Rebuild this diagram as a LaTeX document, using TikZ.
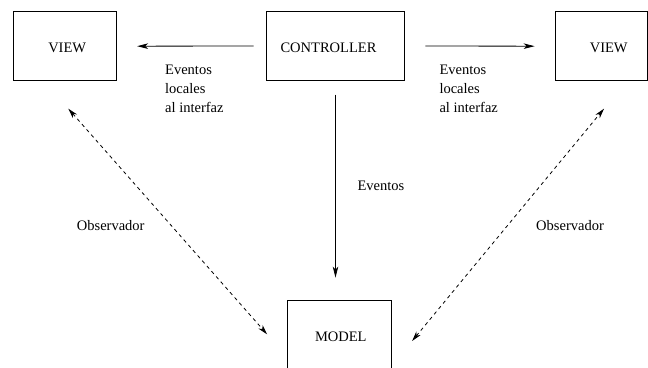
\documentclass[tikz,border=0pt]{standalone}
\usepackage{fontspec}
\setmainfont{Liberation Serif}
\usetikzlibrary{arrows.meta,calc}

\begin{document}
\begin{tikzpicture}[x=1pt,y=-1pt,
  txt/.style={font=\fontsize{14.5}{19}\selectfont},
  box/.style={draw,line width=0.8pt,inner sep=0pt,rectangle},
  flow/.style={line width=0.8pt,-{Stealth[length=11pt,width=5.5pt,inset=3pt]}},
  obs/.style={line width=0.8pt,dash pattern=on 3.5pt off 3.5pt,
    {Stealth[length=10pt,width=5.5pt,inset=3pt]}-{Stealth[length=10pt,width=5.5pt,inset=3pt]}},
  lbl/.style={txt,inner sep=0pt}]
  \useasboundingbox (0,0) rectangle (648,367);

  % components
  \node[box,minimum width=103.4pt,minimum height=69pt,
        label={[txt,xshift=2.2pt,yshift=-1.3pt]center:VIEW}] (viewL) at (65,46.2) {};
  \node[box,minimum width=137.6pt,minimum height=68.3pt,
        label={[txt,xshift=-7pt,yshift=-1.5pt]center:CONTROLLER}] (ctrl) at (335.5,46) {};
  \node[box,minimum width=92.2pt,minimum height=69pt,
        label={[txt,xshift=7.3pt,yshift=-1.3pt]center:VIEW}] (viewR) at (601.4,46.2) {};
  \node[box,minimum width=104pt,minimum height=80pt,
        label={[txt,xshift=1.8pt,yshift=3.3pt]center:MODEL}] (model) at (339,340) {};

  % controller events
  \draw[flow,shorten <=12.7pt,shorten >=20pt] (ctrl.west) -- (viewL.east);
  \draw[flow,shorten <=20.7pt,shorten >=20.3pt] (ctrl.east) -- (viewR.west);
  \draw[flow,shorten <=14pt,shorten >=22pt] (ctrl.south) -- (ctrl.south |- model.north);

  % observer links
  \draw[obs] ($(viewL.south)+(3.3,27.6)$) -- ($(model.west)+(-19.5,-5.7)$);
  \draw[obs] ($(model.east)+(20.7,1)$) -- ($(viewR.south)+(2.6,27.6)$);

  % connector labels
  \node[lbl,anchor=north west,align=left] (evL) at (165,65) {Eventos\\locales\\al interfaz};
  \node[lbl,anchor=north west,align=left] (evR) at (439.3,65) {Eventos\\locales\\al interfaz};
  \node[lbl,anchor=base west] (evM) at (357.3,190) {Eventos};
  \node[lbl,anchor=base west] (obsL) at (76.7,230.3) {Observador};
  \node[lbl,anchor=base west] (obsR) at (536,230.3) {Observador};
\end{tikzpicture}
\end{document}
